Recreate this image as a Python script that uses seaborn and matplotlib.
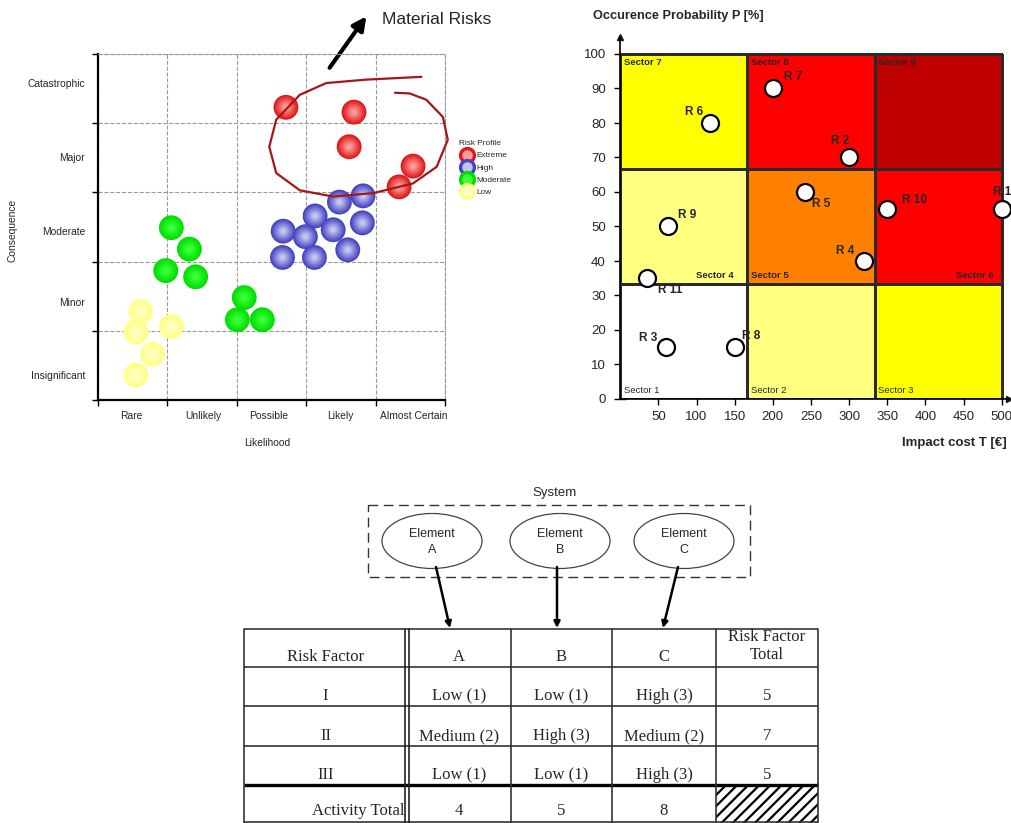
import numpy as np
import matplotlib
matplotlib.use("Agg")
import matplotlib.pyplot as plt
import seaborn as sns
from matplotlib import font_manager
from matplotlib.colors import ListedColormap, to_rgb
from matplotlib.lines import Line2D
from matplotlib.patches import Ellipse, Rectangle

# ---------------- data ----------------
# left: qualitative risk matrix
likelihood = ["Rare", "Unlikely", "Possible", "Likely", "Almost Certain"]
consequence = ["Insignificant", "Minor", "Moderate", "Major", "Catastrophic"]
profiles = ["Extreme", "High", "Moderate", "Low"]

extreme_x = [2.71, 3.69, 3.62, 4.54, 4.34]
extreme_y = [4.23, 4.16, 3.66, 3.38, 3.08]
high_x = [3.82, 3.48, 3.13, 2.67, 2.99, 3.39, 3.81, 2.66, 3.12, 3.60]
high_y = [2.95, 2.86, 2.66, 2.44, 2.36, 2.46, 2.56, 2.06, 2.06, 2.17]
moderate_x = [1.06, 1.32, 0.98, 1.41, 2.11, 2.01, 2.37]
moderate_y = [2.49, 2.18, 1.87, 1.78, 1.48, 1.16, 1.16]
low_x = [0.62, 1.06, 0.55, 0.79, 0.55]
low_y = [1.28, 1.06, 0.98, 0.66, 0.36]

# right: sector chart
risk_names = ["R 1", "R 2", "R 3", "R 4", "R 5", "R 6", "R 7", "R 8", "R 9", "R 10", "R 11"]
impact_cost = [500, 300, 60, 320, 242, 118, 200, 150, 62, 350, 35]
occurrence = [55, 70, 15, 40, 60, 80, 90, 15, 50, 55, 35]
cost_edges = [0, 500 / 3, 1000 / 3, 500]
prob_edges = [0, 100 / 3, 200 / 3, 100]
sector_codes = [[0, 1, 2],   # Sector 1, 2, 3
                [1, 3, 4],   # Sector 4, 5, 6
                [2, 4, 5]]   # Sector 7, 8, 9
sector_colors = ["#ffffff", "#ffff80", "#ffff00", "#ff8000", "#ff0000", "#c00000"]

# bottom: system / table
elements = ["A", "B", "C"]
risk_factors = ["I", "II", "III"]
ratings = [["Low (1)", "Low (1)", "High (3)"],
           ["Medium (2)", "High (3)", "Medium (2)"],
           ["Low (1)", "Low (1)", "High (3)"]]
factor_totals = [5, 7, 5]
activity_totals = [4, 5, 8]

# ---------------- style ----------------
sns.set_theme(style="white")
plt.rcParams["font.family"] = ["Liberation Sans", "DejaVu Sans"]
plt.rcParams["hatch.linewidth"] = 1.6

font_names = {f.name for f in font_manager.fontManager.ttflist}
if "Liberation Sans Narrow" in font_names:
    NARROW, NSIZE = ["Liberation Sans Narrow", "DejaVu Sans"], 8.8
else:
    NARROW, NSIZE = ["Liberation Sans", "DejaVu Sans"], 7.4

W, H = 1011, 823
fig = plt.figure(figsize=(W / 100, H / 100), dpi=100)

# overlay axes in pixel coordinates (drawn behind the charts)
ax3 = fig.add_axes([0, 0, 1, 1], zorder=-1)
ax3.set_xlim(0, W)
ax3.set_ylim(H, 0)
ax3.axis("off")

# ---------------- left chart ----------------
ax1 = fig.add_axes([97.7 / W, 1 - 400 / H, 347.3 / W, 346 / H])
ax1.patch.set_alpha(0)

glossy = {
    "Extreme": (extreme_x, extreme_y, "#e01818", "#ff9c9c"),
    "High": (high_x, high_y, "#4444c2", "#c4c4f2"),
    "Moderate": (moderate_x, moderate_y, "#00de00", "#3cff3c"),
    "Low": (low_x, low_y, "#ffff88", "#ffffc4"),
}
N_LAYERS = 8
for name in profiles:
    xs, ys, c_edge, c_mid = glossy[name]
    for k in range(N_LAYERS):
        t = k / (N_LAYERS - 1)
        col = tuple((1 - t) * np.array(to_rgb(c_edge)) + t * np.array(to_rgb(c_mid)))
        frac = 1 - 0.8 * t
        sns.scatterplot(x=xs, y=ys, s=320 * frac ** 2, color=col, edgecolor="none",
                        linewidth=0, ax=ax1, legend=False, zorder=3)

ax1.set_xlim(0, 5)
ax1.set_ylim(0, 5)
ax1.set_xticks(range(6))
ax1.set_yticks(range(6))
ax1.set_xticklabels([])
ax1.set_yticklabels([])
ax1.set_xticks([0.49, 1.52, 2.46, 3.50, 4.55], minor=True)
ax1.set_xticklabels(likelihood, minor=True, family=NARROW, fontsize=NSIZE)
ax1.set_yticks([0.36, 1.42, 2.44, 3.51, 4.58], minor=True)
ax1.set_yticklabels(consequence, minor=True, family=NARROW, fontsize=NSIZE)
ax1.tick_params(which="major", direction="out", length=4, width=1, color="black",
                bottom=True, left=True)
ax1.tick_params(which="minor", length=0, bottom=True, left=True)
ax1.tick_params(axis="x", which="minor", pad=8)
ax1.tick_params(axis="y", which="minor", pad=9)
ax1.grid(True, which="major", ls="--", lw=0.8, color="#9a9a9a")
for side in ["left", "bottom"]:
    ax1.spines[side].set_color("black")
    ax1.spines[side].set_linewidth(1.6)
for side in ["top", "right"]:
    ax1.spines[side].set_color("#9a9a9a")
    ax1.spines[side].set_linestyle("--")
    ax1.spines[side].set_linewidth(0.8)
ax1.set_xlabel("Likelihood", family=NARROW, fontsize=NSIZE)
ax1.set_ylabel("Consequence", family=NARROW, fontsize=NSIZE)
ax1.xaxis.set_label_coords(0.4875, -0.11)
ax1.yaxis.set_label_coords(-0.232, 0.49)

# hand-drawn loop around material risks
loop_x = [4.66, 3.87, 3.29, 2.91, 2.57, 2.47, 2.57, 2.91, 3.39, 3.97, 4.54, 4.88, 5.04, 4.97, 4.73, 4.49, 4.28]
loop_y = [4.67, 4.63, 4.58, 4.41, 4.05, 3.66, 3.28, 3.03, 2.94, 2.99, 3.13, 3.37, 3.76, 4.09, 4.34, 4.43, 4.44]
ax1.plot(loop_x, loop_y, color="#a51616", lw=1.6, solid_joinstyle="round",
         solid_capstyle="round", clip_on=False, zorder=4)

handles = [Line2D([], [], marker="o", ls="", markersize=10,
                  markerfacecolor=glossy[p][3], markeredgecolor=glossy[p][2], markeredgewidth=2.4)
           for p in profiles]
leg = ax1.legend(handles, profiles, title="Risk Profile", loc="upper left",
                 bbox_to_anchor=(455 / W, 1 - 136 / H), bbox_transform=fig.transFigure,
                 frameon=False, fontsize=NSIZE * 0.8, title_fontsize=NSIZE * 0.8,
                 handletextpad=0.1, labelspacing=0.55, borderpad=0, alignment="left")
for txt in leg.get_texts() + [leg.get_title()]:
    txt.set_family(NARROW)

ax3.annotate("", xy=(368, 14), xytext=(328, 70),
             arrowprops=dict(arrowstyle="-|>", lw=3, color="black", mutation_scale=20))
ax3.text(437, 19, "Material Risks", fontsize=12.5, ha="center", va="center")

# ---------------- right chart ----------------
ax2 = fig.add_axes([620.3 / W, 1 - 399 / H, 389 / W, 362.25 / H])
ax2.patch.set_alpha(0)
ax2.pcolormesh(cost_edges, prob_edges, np.array(sector_codes),
               cmap=ListedColormap(sector_colors), vmin=-0.5, vmax=5.5,
               edgecolors="#2a2a2a", linewidth=0.8, zorder=1)

# sector captions: (number, column, row, corner)
captions = [(1, 0, 0, "bl"), (2, 1, 0, "bl"), (3, 2, 0, "bl"),
            (4, 0, 1, "br"), (5, 1, 1, "bl"), (6, 2, 1, "br"),
            (7, 0, 2, "tl"), (8, 1, 2, "tl"), (9, 2, 2, "tl")]
for num, col, row, corner in captions:
    if corner == "tl":
        x, y, ha, va = cost_edges[col] + 5, prob_edges[row + 1] - 1.2, "left", "top"
    elif corner == "bl":
        x, y, ha, va = cost_edges[col] + 5, prob_edges[row] + 1.3, "left", "bottom"
    else:
        x, y, ha, va = cost_edges[col + 1] - (18 if col == 0 else 11), prob_edges[row] + 1.3, "right", "bottom"
    ax2.text(x, y, f"Sector {num}", fontsize=6.8, ha=ha, va=va,
             fontweight="normal" if row == 0 else "bold", zorder=2)

sns.scatterplot(x=impact_cost, y=occurrence, s=150, color="white", edgecolor="black",
                linewidth=1.6, ax=ax2, legend=False, zorder=4, clip_on=False)

label_offsets = [(-9, 17, "left"), (-9, 16, "center"), (-18, 9, "center"), (-19, 10, "center"),
                 (16, -12, "center"), (-16, 11, "center"), (20, 11, "center"), (16, 11, "center"),
                 (20, 11, "center"), (27, 9, "center"), (23, -12, "center")]
for name, x, y, (dx, dy, ha) in zip(risk_names, impact_cost, occurrence, label_offsets):
    ax2.annotate(name, (x, y), xytext=(dx, dy), textcoords="offset pixels",
                 ha=ha, va="center", fontsize=8.5, fontweight="bold", zorder=5,
                 annotation_clip=False)

ax2.set_xlim(0, 510)
ax2.set_ylim(0, 105)
ax2.set_xticks(range(50, 501, 50))
ax2.set_yticks(range(0, 101, 10))
ax2.tick_params(direction="inout", length=9, width=1, color="black", labelsize=9.5,
                bottom=True, left=True)
ax2.tick_params(axis="y", pad=6)
ax2.tick_params(axis="x", pad=4)
for side in ["top", "right"]:
    ax2.spines[side].set_visible(False)
for side in ["left", "bottom"]:
    ax2.spines[side].set_color("black")
    ax2.spines[side].set_linewidth(1.2)
ax2.plot(1, 0, ">k", transform=ax2.transAxes, clip_on=False, ms=4)
ax2.plot(0, 1, "^k", transform=ax2.transAxes, clip_on=False, ms=4)
fig.text(593 / W, 1 - 16 / H, "Occurence Probability P [%]", fontsize=9.2,
         fontweight="bold", ha="left", va="center")
fig.text(1007 / W, 1 - 443 / H, "Impact cost T [€]", fontsize=9.5,
         fontweight="bold", ha="right", va="center")

# ---------------- bottom: system diagram ----------------
ax3.text(555, 493, "System", fontsize=9.5, ha="center", va="center")
ax3.add_patch(Rectangle((368, 505), 382, 72, fill=False, ec="#333333", lw=1,
                        ls=(0, (7, 4))))
ell_cx = [432, 560, 684]
arrow_from = [436, 557, 678]
arrow_to = [450, 557, 663]
for name, cx, x0, x1 in zip(elements, ell_cx, arrow_from, arrow_to):
    ax3.add_patch(Ellipse((cx, 541), 100, 55, fill=False, ec="#444444", lw=0.9))
    ax3.text(cx, 542, f"Element\n{name}", fontsize=9, ha="center", va="center",
             linespacing=1.5)
    ax3.annotate("", xy=(x1, 628), xytext=(x0, 567),
                 arrowprops=dict(arrowstyle="-|>", lw=1.8, color="black", mutation_scale=9,
                                 shrinkA=0, shrinkB=0))

# ---------------- bottom: risk table ----------------
col_x = [244, 407, 511, 612, 716, 818]
row_y = [629, 667, 706, 746, 785, 822]
serif = dict(family=["Liberation Serif", "DejaVu Serif"], fontsize=12, ha="center", va="center")
for i, y in enumerate(row_y):
    ax3.plot([col_x[0], col_x[-1]], [y, y], color="black" if i == 4 else "#333333",
             lw=2.4 if i == 4 else 1.2, solid_capstyle="butt")
for i, x in enumerate(col_x):
    if i == 1:
        for xx in (405, 409):
            ax3.plot([xx, xx], [row_y[0], H], color="#222222", lw=1.2)
    else:
        ax3.plot([x, x], [row_y[0], H], color="#333333", lw=1.2)
ax3.add_patch(Rectangle((col_x[4], row_y[4]), col_x[5] - col_x[4], H - row_y[4],
                        hatch="///", fill=False, ec="black", lw=0))

centers = [(a + b) / 2 for a, b in zip(col_x[:-1], col_x[1:])]
ax3.text(centers[0], row_y[1] - 10, "Risk Factor", **serif)
for c, name in zip(centers[1:4], elements):
    ax3.text(c, row_y[1] - 10, name, **serif)
ax3.text(centers[4], row_y[1] - 21, "Risk Factor\nTotal", linespacing=1.1, **serif)
for r, (rf, row, tot) in enumerate(zip(risk_factors, ratings, factor_totals)):
    yb = row_y[r + 2] - 10
    ax3.text(centers[0], yb, rf, **serif)
    for c, val in zip(centers[1:4], row):
        ax3.text(c, yb, val, **serif)
    ax3.text(centers[4], yb, str(tot), **serif)
ax3.text(404, H - 12, "Activity Total", **{**serif, "ha": "right"})
for c, val in zip(centers[1:4], activity_totals):
    ax3.text(c, H - 12, str(val), **serif)

fig.savefig("out.png", dpi=100)
